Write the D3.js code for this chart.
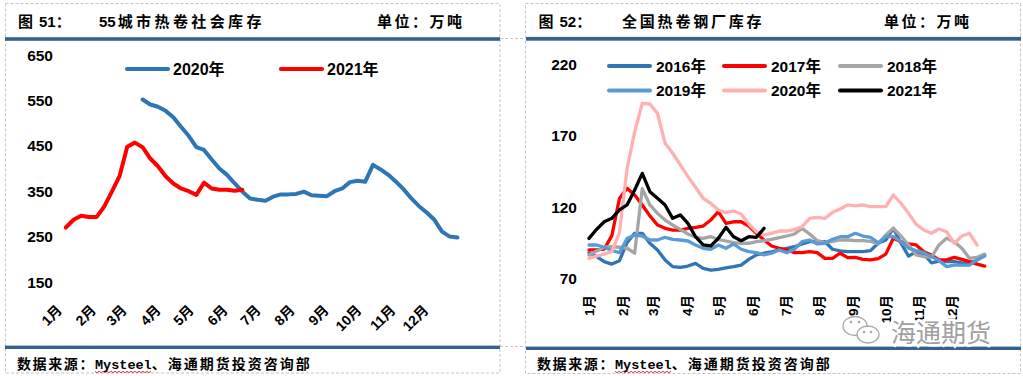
<!DOCTYPE html>
<html lang="zh">
<head>
<meta charset="UTF-8">
<title>热卷库存</title>
<script src="https://d3js.org/d3.v7.min.js"></script>
<style>
  body { margin: 0; background: #fff; }
  svg { display: block; font-family: "Liberation Sans", "Noto Sans CJK SC", sans-serif; }
</style>
</head>
<body>
<div id="chart"></div>
<script>
// ---- 图51 55城市热卷社会库存 (周数据, 万吨)
var monthLabels = ["1月", "2月", "3月", "4月", "5月", "6月", "7月", "8月", "9月", "10月", "11月", "12月"];
var cityTicks = [150, 250, 350, 450, 550, 650];
var cityStart2021 = "2021-01-04";
var city2021 = [270, 287, 296, 293, 293, 316, 349, 383, 448, 457, 447, 422, 405, 383, 367, 356, 350, 342, 369, 356, 353, 353, 351, 353];
var cityStart2020 = "2020-03-14";
var city2020 = [552, 541, 536, 527, 513, 492, 472, 447, 441, 420, 400, 386, 367, 349, 334, 331, 329, 338, 343, 343,
                344, 349, 341, 340, 339, 350, 356, 370, 373, 371, 408, 398, 386, 371, 354, 334, 317, 303, 287, 261,
                250, 248];

// ---- 图52 全国热卷钢厂库存 (周数据, 万吨)
var millTicks = [70, 120, 170, 220];
var millYears = ["2016年", "2017年", "2018年", "2019年", "2020年", "2021年"];
var mill2016 = [88, 85.2, 81.7, 80, 82.4, 95, 101.6, 101.6, 94.6, 89.9, 82.9, 78.2, 77.7, 78.6, 80.5, 77, 75.8, 76.3, 77.4, 78.2,
                79.3, 83.3, 86.4, 87.6, 88.5, 89.9, 91.1, 92.2, 94.1, 95.7, 95.7, 95.7, 90.4, 89.2, 88.7, 88.7, 88.7, 89.4, 94.6, 96.9,
                105.1, 94.6, 85.6, 88.7, 87, 80.9, 82.1, 81.7, 81.7, 80.9, 80.5, 82.9, 86.4];
var mill2017 = [89.9, 89.9, 90.5, 100, 126, 133.2, 128.5, 121.5, 113.8, 107.4, 105.1, 103.9, 103.9, 105.1, 105.8, 106.7, 110.9, 116.8, 108.6, 109.7,
                109.7, 106.7, 101.6, 96.9, 92.7, 91.1, 89.9, 88, 88, 88.7, 88, 84, 84, 87.6, 84.5, 84.7, 83.3, 82.9, 83.8, 87,
                98.1, 95.7, 94.1, 93.4, 88.7, 86.4, 82.9, 82.9, 84.7, 83.3, 81.7, 80, 78.6];
var mill2018 = [86.4, 89.2, 91.8, 92.2, 91.8, 91.1, 87.6, 133, 121.5, 115.6, 110.9, 107.4, 104.4, 101.1, 98.8, 98.1, 99.2, 97.4, 96.2, 95,
                94.6, 94.6, 95.7, 96.4, 97.4, 98.5, 99.7, 101.1, 105.1, 101.1, 96.4, 95, 96, 96.9, 96.9, 96.4, 96.4, 96, 94.1, 100.4,
                105.1, 99.7, 93.4, 86.4, 85.2, 84.7, 93.4, 98.1, 95.7, 91.1, 84, 84.7, 87];
var mill2019 = [93.4, 93.4, 91.8, 89.5, 88, 98, 100.4, 99.7, 96.9, 96.9, 98.8, 97.4, 96.9, 96.2, 93.4, 91.1, 90.4, 93.4, 91.1, 94.1,
                90.4, 88.7, 88, 86.4, 87.6, 89.9, 88, 90.4, 95.7, 96.9, 94.1, 94.6, 97.4, 99.2, 99.2, 101.6, 99.7, 98.8, 95, 99.2,
                99.2, 95.7, 91.1, 89.4, 88, 85.2, 82.4, 78.2, 79.3, 79.3, 79.3, 82.9, 85.6];
var mill2020 = [84, 85.6, 87, 88.7, 102, 147, 172.7, 192.9, 192.4, 185.9, 164.8, 157.8, 149.6, 141.4, 133.9, 126.2, 122.7, 118, 116.1, 117.3,
                115.2, 108.1, 102.7, 100.4, 101.6, 103.2, 103.2, 104.1, 106.3, 112.1, 112.8, 112.1, 116.3, 118.7, 121.5, 120.8, 121.5, 120.3, 120.3, 120.3,
                128.5, 122.7, 115.6, 107.9, 103.9, 101.6, 104.6, 102.7, 94.6, 99.7, 101.6, 93.4];
var mill2021 = [98, 104.4, 109.7, 112.1, 118, 121.5, 132, 143.7, 130.8, 126.2, 121.5, 112.1, 114.5, 108.6, 99.2, 93.4, 92.7, 98.1, 105.8, 99.2,
                96.4, 99.2, 98.8, 105.1];

var millSeries = [mill2016, mill2017, mill2018, mill2019, mill2020, mill2021];
var millColors = ["#2E75B6", "#FF0000", "#A5A5A5", "#5B9BD5", "#FFB0B0", "#000000"];

var parse = d3.timeParse("%Y-%m-%d");
function dayOfYear(d) { return d3.timeDay.count(d3.timeYear(d), d); }
function weekly(startStr, values) {
    var s = parse(startStr);
    return values.map(function(v, i) { return { day: dayOfYear(d3.timeDay.offset(s, 7 * i)), v: v }; });
}
var refYear = new Date(2021, 0, 1);
var monthDays = d3.timeMonth.range(refYear, new Date(2022, 0, 1)).map(function(d) { return d3.timeDay.count(refYear, d); });

var W = 1023, H = 376;
var svg = d3.select("#chart").append("svg").attr("width", W).attr("height", H);

// table frame
var frame = svg.append("g").attr("fill", "none").attr("stroke", "#c4c4c4").attr("stroke-dasharray", "3,2");
frame.append("rect").attr("x", 5.5).attr("y", 3.5).attr("width", 494.5).attr("height", 369.5);
frame.append("rect").attr("x", 525.5).attr("y", 3.5).attr("width", 495).attr("height", 370);
[38.5, 346.5].forEach(function(y) {
    frame.append("line").attr("x1", 500).attr("x2", 525).attr("y1", y).attr("y2", y);
});

// header / footer bars
var barColor = "#35618F";
svg.append("rect").attr("x", 5).attr("y", 37.2).attr("width", 495).attr("height", 3.6).attr("fill", barColor);
svg.append("rect").attr("x", 5).attr("y", 345.6).attr("width", 495).attr("height", 3.4).attr("fill", barColor);
svg.append("rect").attr("x", 526).attr("y", 36.9).attr("width", 495).attr("height", 3.8).attr("fill", barColor);
svg.append("rect").attr("x", 526).attr("y", 346.6).attr("width", 495).attr("height", 3.4).attr("fill", barColor);

function title(x, num, lead, name, nameX, spacing, unitX) {
    var t = svg.append("text").attr("y", 27).attr("font-size", 15).attr("font-weight", "bold").attr("fill", "#000");
    t.append("tspan").attr("x", x).attr("font-family", "Noto Sans CJK SC").text("图");
    t.append("tspan").attr("dx", 6).text(num);
    t.append("tspan").attr("font-family", "Noto Sans CJK SC").text("：");
    var n = svg.append("text").attr("x", nameX).attr("y", 27).attr("font-size", 15).attr("font-weight", "bold");
    if (lead) n.append("tspan").attr("dx", 0).text(lead);
    n.append("tspan").attr("dx", lead ? 2 : 0).attr("letter-spacing", spacing).text(name);
    svg.append("text").attr("x", unitX).attr("y", 27).attr("font-size", 15).attr("font-weight", "bold")
        .attr("letter-spacing", 2.5).attr("font-family", "Noto Sans CJK SC").text("单位：万吨");
}
title(18, "51", "55", "城市热卷社会库存", 99, 3.4, 377);
title(538.5, "52", "", "全国热卷钢厂库存", 622, 2.8, 884);

function source(x) {
    var t = svg.append("text").attr("x", x).attr("y", 369).attr("font-size", 14).attr("font-weight", "bold")
        .attr("font-family", "Noto Sans CJK SC");
    t.append("tspan").attr("letter-spacing", 1.6).text("数据来源：");
    t.append("tspan").attr("font-family", "Liberation Mono").attr("font-size", 13.5).attr("letter-spacing", 0).text("Mysteel");
    t.append("tspan").attr("letter-spacing", 2).text("、海通期货投资咨询部");
    // spell-check wavy underline under "Mysteel"
    var x0 = x + 78, pts = [];
    for (var k = 0; k <= 28; k++) pts.push([x0 + k * 2, 371.5 + (k % 2 ? 1.2 : -0.2)]);
    svg.append("path").attr("d", d3.line()(pts)).attr("fill", "none").attr("stroke", "#E00000").attr("stroke-width", 0.8);
}
source(17);
source(537);

// ---------- 图51 ----------
var xL = d3.scaleLinear().domain([0, 365]).range([62.5, 62.5 + 365 * 1.097]);
var yL = d3.scaleLinear().domain([150, 650]).range([282, 55]);

var gL = svg.append("g");
gL.append("g").selectAll("text").data(cityTicks).join("text")
    .attr("x", 53).attr("y", function(d) { return yL(d); }).attr("dy", "0.36em")
    .attr("text-anchor", "end").attr("font-size", 15.5).attr("font-weight", "bold").text(function(d) { return d; });
gL.append("g").selectAll("text").data(monthLabels).join("text")
    .attr("transform", function(d, i) { return "translate(" + (xL(monthDays[i]) + 0.5) + ",311) rotate(-45)"; })
    .attr("text-anchor", "end").attr("font-size", 14).attr("font-weight", "bold").text(function(d) { return d; });

var lineL = d3.line().x(function(d) { return xL(d.day); }).y(function(d) { return yL(d.v); });
[[weekly(cityStart2020, city2020), "#2E75B6"], [weekly(cityStart2021, city2021), "#FF0000"]].forEach(function(s) {
    gL.append("path").attr("d", lineL(s[0])).attr("fill", "none").attr("stroke", s[1])
        .attr("stroke-width", 4).attr("stroke-linejoin", "round").attr("stroke-linecap", "round");
});

var legL = [["2020年", "#2E75B6", 127], ["2021年", "#FF0000", 281]];
legL.forEach(function(l) {
    gL.append("line").attr("x1", l[2]).attr("x2", l[2] + 41).attr("y1", 69).attr("y2", 69)
        .attr("stroke", l[1]).attr("stroke-width", 4.2).attr("stroke-linecap", "round");
    gL.append("text").attr("x", l[2] + 46).attr("y", 69).attr("dy", "0.36em").attr("font-size", 16)
        .attr("font-weight", "bold").text(l[0]);
});

// ---------- 图52 ----------
var xR = d3.scaleLinear().domain([0, 365]).range([589, 589 + 365 * 1.087]);
var yR = d3.scaleLinear().domain([70, 220]).range([278.3, 64.7]);

var gR = svg.append("g");
gR.append("g").selectAll("text").data(millTicks).join("text")
    .attr("x", 577).attr("y", function(d) { return yR(d); }).attr("dy", "0.36em")
    .attr("text-anchor", "end").attr("font-size", 15.5).attr("font-weight", "bold").text(function(d) { return d; });
gR.append("g").selectAll("text").data(monthLabels).join("text")
    .attr("transform", function(d, i) { return "translate(" + xR(monthDays[i]) + ",295) rotate(-90)"; })
    .attr("dy", "0.36em").attr("text-anchor", "end").attr("font-size", 13.5).attr("font-weight", "bold")
    .text(function(d) { return d; });

var lineR = d3.line().x(function(d) { return xR(d.day); }).y(function(d) { return yR(d.v); });
millSeries.forEach(function(vals, k) {
    gR.append("path").attr("d", lineR(weekly(millYears[k].slice(0, 4) + "-01-01", vals)))
        .attr("fill", "none").attr("stroke", millColors[k]).attr("stroke-width", 3.3)
        .attr("stroke-linejoin", "round").attr("stroke-linecap", "round");
});

var legCols = [609, 724, 840], legRows = [66, 90.5];
millYears.forEach(function(name, k) {
    var lx = legCols[k % 3], ly = legRows[Math.floor(k / 3)];
    gR.append("line").attr("x1", lx).attr("x2", lx + 41).attr("y1", ly).attr("y2", ly)
        .attr("stroke", millColors[k]).attr("stroke-width", 4).attr("stroke-linecap", "round");
    gR.append("text").attr("x", lx + 47).attr("y", ly).attr("dy", "0.36em").attr("font-size", 15.5)
        .attr("font-weight", "bold").text(name);
});

// watermark
var wm = svg.append("g");
wm.append("ellipse").attr("cx", 855).attr("cy", 326).attr("rx", 12).attr("ry", 9.5)
    .attr("fill", "#fff").attr("stroke", "#a8a8a8").attr("stroke-width", 1.3);
wm.append("ellipse").attr("cx", 868).attr("cy", 334.5).attr("rx", 11).attr("ry", 8.5)
    .attr("fill", "#fff").attr("stroke", "#a8a8a8").attr("stroke-width", 1.3);
[[851, 322], [859, 322], [864, 332], [871, 332]].forEach(function(p) {
    wm.append("circle").attr("cx", p[0]).attr("cy", p[1]).attr("r", 1.3).attr("fill", "#a8a8a8");
});
wm.append("text").attr("x", 891).attr("y", 342).attr("font-family", "Noto Sans CJK SC").attr("font-size", 25)
    .attr("fill", "#a0a0a0").attr("stroke", "#fff").attr("stroke-width", 5).attr("paint-order", "stroke")
    .text("海通期货");
</script>
</body>
</html>
